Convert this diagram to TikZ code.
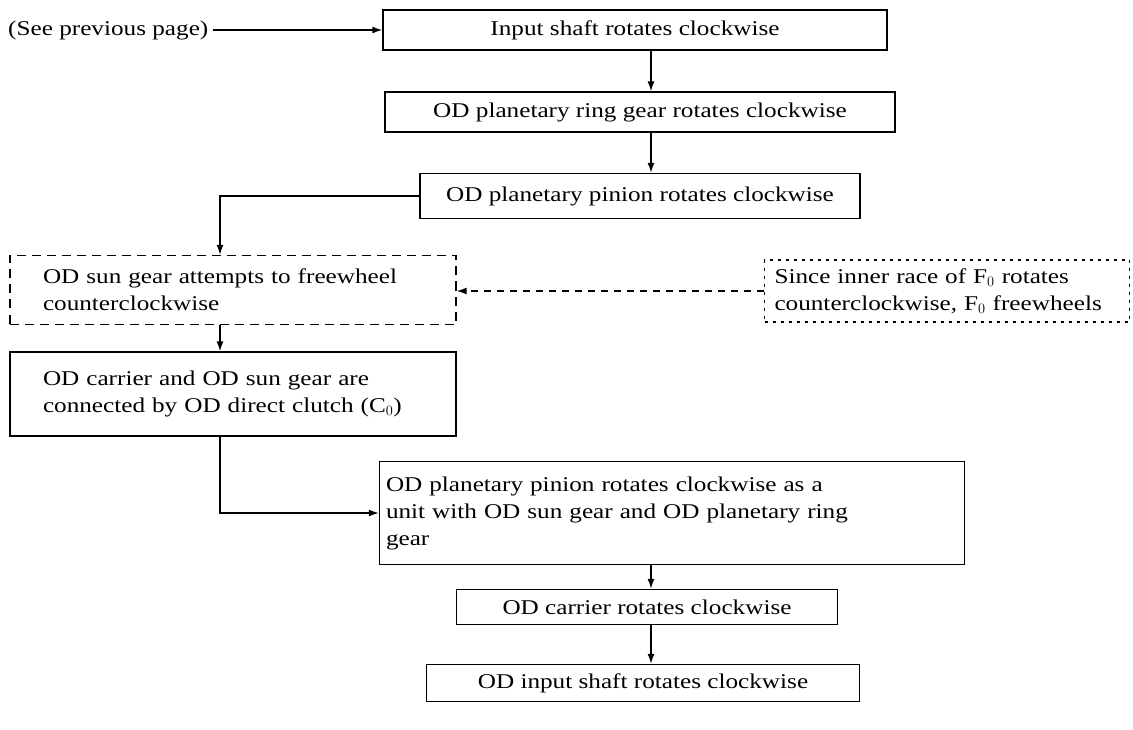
\documentclass[tikz,border=0pt]{standalone}
\usepackage{fontspec}
\setmainfont{Liberation Serif}[FakeStretch=1.2]
\usetikzlibrary{arrows.meta}
\tikzset{
  box/.style={draw, line width=1.3pt, inner sep=0pt, align=center},
  lbox/.style={draw, line width=1.3pt, inner sep=0pt, align=left},
  dbox/.style={lbox, dashed, dash pattern=on 9pt off 6pt},
  conn/.style={line width=1.4pt, -{Latex[length=10pt,width=7pt]}},
  every node/.style={font=\fontsize{21}{27}\selectfont}
}
\begin{document}
\begin{tikzpicture}[x=1pt,y=-1pt]
\useasboundingbox (0,0) rectangle (1133,730);
\coordinate (ax) at (651,0);
\coordinate (lx) at (220,0);
\node[anchor=west, inner sep=0pt] (see) at (8,30) {(See previous page)};
\node[box, minimum width=504pt, minimum height=40pt] (input) at (635,30) {Input shaft rotates clockwise};
\node[box, minimum width=510pt, minimum height=40pt] (ring) at (640,112) {OD planetary ring gear rotates clockwise};
\node[box, minimum width=440pt, minimum height=45pt] (pinion) at (640,196) {OD planetary pinion rotates clockwise};
\node[dbox, minimum width=446pt, minimum height=69pt, text width=380pt] (sun) at (233,290) {OD sun gear attempts to freewheel\\counterclockwise};
\node[dbox, dash pattern=on 3pt off 5pt, minimum width=365pt, minimum height=62pt, text width=345pt] (since) at (947,291) {Since inner race of F$_0$ rotates\\counterclockwise, F$_0$ freewheels};
\node[lbox, minimum width=446pt, minimum height=84pt, text width=380pt] (carrsun) at (233,394) {OD carrier and OD sun gear are\\connected by OD direct clutch (C$_0$)};
\node[lbox, minimum width=585pt, minimum height=103pt, text width=572pt] (unit) at (672,513) {OD planetary pinion rotates clockwise as a\\unit with OD sun gear and OD planetary ring\\gear};
\node[box, minimum width=381pt, minimum height=35pt] (carrier) at (647,607) {OD carrier rotates clockwise};
\node[box, minimum width=433pt, minimum height=37pt] (odinput) at (643,683) {OD input shaft rotates clockwise};
\draw[conn] (see.east) ++(4pt,0) -- (input.west);
\draw[conn] (input.south -| ax) -- (ring.north -| ax);
\draw[conn] (ring.south -| ax) -- (pinion.north -| ax);
\draw[conn] (pinion.west) -| (sun.north -| lx);
\draw[conn, dash pattern=on 7pt off 6pt] (since.west) -- (since.west -| sun.east);
\draw[conn] (sun.south -| lx) -- (carrsun.north -| lx);
\draw[conn] (carrsun.south -| lx) |- (unit.west);
\draw[conn] (unit.south -| ax) -- (carrier.north -| ax);
\draw[conn] (carrier.south -| ax) -- (odinput.north -| ax);
\end{tikzpicture}
\end{document}
